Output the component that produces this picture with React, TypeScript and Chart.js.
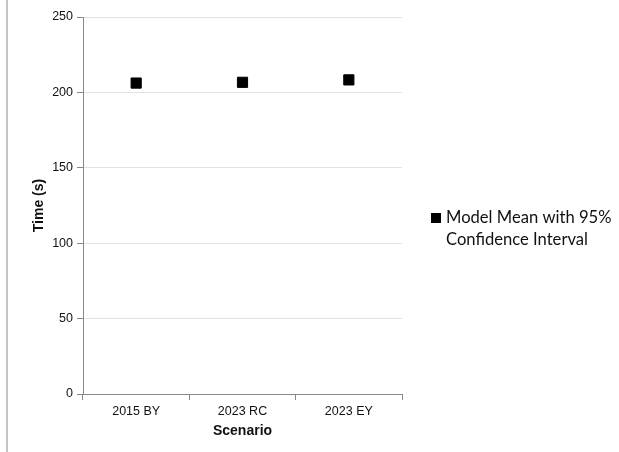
import React, { useEffect, useRef } from "react";
import { Chart, registerables } from "chart.js";

Chart.register(...registerables);

const categories = ["2015 BY", "2023 RC", "2023 EY"];
const meanValues = [206.2, 206.7, 208.3];
const seriesLabel = "Model Mean with 95%|Confidence Interval";
const yTitle = "Time (s)";
const xTitle = "Scenario";

const legendPlugin = {
  id: "sideLegend",
  afterDraw(chart: any) {
    const ctx = chart.ctx;
    ctx.save();
    // left border line of the frame
    ctx.fillStyle = "#c4c4c4";
    ctx.fillRect(6, 0, 2, 452);
    // legend marker
    ctx.fillStyle = "#000";
    ctx.fillRect(431, 213, 10, 10);
    ctx.font = "16.6px Lato";
    ctx.fillStyle = "#111";
    ctx.textBaseline = "middle";
    const lines = seriesLabel.split("|");
    lines.forEach((t, i) => ctx.fillText(t, 446, 218 + i * 22));
    ctx.restore();
  },
};

export default function App() {
  const ref = useRef<HTMLCanvasElement>(null);
  useEffect(() => {
    if (!ref.current) return;
    const chart = new Chart(ref.current, {
      type: "line",
      data: {
        labels: categories,
        datasets: [
          {
            label: seriesLabel,
            data: meanValues,
            showLine: false,
            pointStyle: "rect",
            pointRadius: 7.2,
            pointBackgroundColor: "#000",
            pointBorderColor: "#000",
            pointBorderWidth: 1,
          },
        ],
      },
      options: {
        animation: false,
        responsive: false,
        layout: { padding: { left: 0, top: 17, right: 217, bottom: 0 } },
        plugins: { legend: { display: false }, tooltip: { enabled: false } },
        scales: {
          x: {
            offset: true,
            grid: {
              offset: true,
              drawOnChartArea: false,
              drawTicks: true,
              tickLength: 6,
              tickColor: "#888",
            },
            border: { color: "#888" },
            ticks: {
              color: "#111",
              padding: 4,
              font: { family: "Liberation Sans, Arial", size: 12.5 },
            },
            title: {
              display: true,
              text: xTitle,
              color: "#111",
              font: { family: "Liberation Sans, Arial", size: 14, weight: "bold" },
              padding: { top: 0, bottom: 12.6 },
            },
            afterFit(scale: any) {
              scale.height = 58;
            },
          },
          y: {
            min: 0,
            max: 250,
            ticks: {
              stepSize: 50,
              color: "#111",
              padding: 4,
              font: { family: "Liberation Sans, Arial", size: 12.5 },
            },
            grid: {
              color: "#e3e3e3",
              tickColor: "#888",
              tickLength: 6,
            },
            border: { color: "#888" },
            title: {
              display: true,
              text: yTitle,
              color: "#111",
              font: { family: "Liberation Sans, Arial", size: 14, weight: "bold" },
              padding: { top: 30.6, bottom: 0 },
            },
            afterFit(scale: any) {
              scale.width = 83;
            },
          },
        },
      },
      plugins: [legendPlugin],
    });
    return () => chart.destroy();
  }, []);
  return (
    <div style={{ position: "fixed", left: 0, top: 0, width: 619, height: 452, background: "#fff" }}>
      <canvas ref={ref} width={619} height={452} style={{ display: "block" }} />
    </div>
  );
}
